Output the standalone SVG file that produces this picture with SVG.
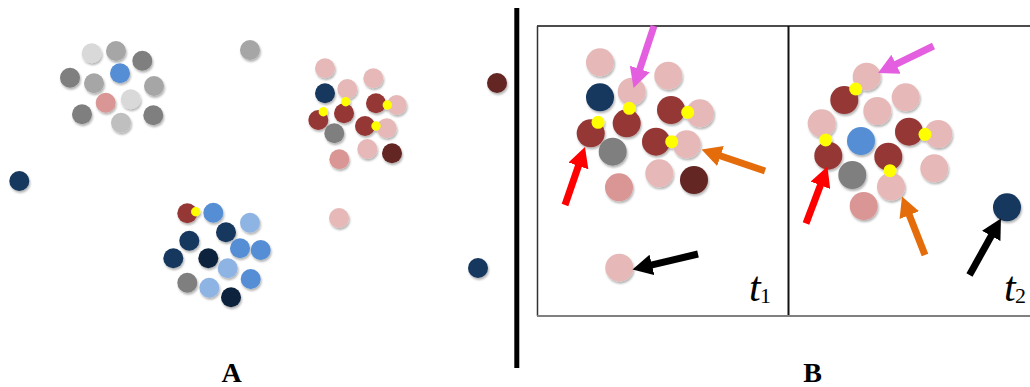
<svg xmlns="http://www.w3.org/2000/svg" width="1030" height="387" viewBox="0 0 1030 387">
<style>
.lg{fill:#d9d9d9}.g{fill:#a6a6a6}.dg{fill:#7f7f7f}.mg{fill:#bfbfbf}
.bl{fill:#558ed5}.lb{fill:#8eb4e3}.nv{fill:#17375e}.dn{fill:#10243e}
.pk{fill:#e6b9b8}.pr{fill:#d99694}.dr{fill:#953735}.mr{fill:#632523}.y{fill:#ffff00}
.sh{filter:url(#shadow)}
.lbl{font-family:"Liberation Serif","Times New Roman",serif;font-weight:bold;font-size:28px;fill:#000}
.t{font-family:"Liberation Serif","Times New Roman",serif;font-style:italic;font-size:42px;fill:#000}
.sub{font-family:"Liberation Serif","Times New Roman",serif;font-size:22px;fill:#000}
.ar{stroke-width:7;fill:none;stroke-linecap:butt}
</style>
<defs>
<filter id="shadow" x="-30%" y="-30%" width="160%" height="160%">
<feDropShadow dx="1" dy="2" stdDeviation="1.2" flood-color="#000" flood-opacity="0.3"/>
</filter>
<marker id="hM" markerUnits="userSpaceOnUse" markerWidth="20" markerHeight="21" viewBox="0 0 20 21" refX="2" refY="10.5" orient="auto"><path d="M0,0 L20,10.5 L0,21 z" fill="#e35fe0"/></marker>
<marker id="hR" markerUnits="userSpaceOnUse" markerWidth="20" markerHeight="21" viewBox="0 0 20 21" refX="2" refY="10.5" orient="auto"><path d="M0,0 L20,10.5 L0,21 z" fill="#ff0000"/></marker>
<marker id="hO" markerUnits="userSpaceOnUse" markerWidth="20" markerHeight="21" viewBox="0 0 20 21" refX="2" refY="10.5" orient="auto"><path d="M0,0 L20,10.5 L0,21 z" fill="#e46c0a"/></marker>
<marker id="hK" markerUnits="userSpaceOnUse" markerWidth="20" markerHeight="21" viewBox="0 0 20 21" refX="2" refY="10.5" orient="auto"><path d="M0,0 L20,10.5 L0,21 z" fill="#000000"/></marker>
</defs>
<rect width="1030" height="387" fill="#ffffff"/>

<!-- Panel A -->
<g id="clusterGray" class="sh">
<circle class="lg" cx="91.7" cy="53.3" r="10"/>
<circle class="g" cx="116" cy="51" r="10"/>
<circle class="dg" cx="142.3" cy="60.7" r="10"/>
<circle class="dg" cx="70" cy="77.7" r="10"/>
<circle class="g" cx="94" cy="83.3" r="10"/>
<circle class="bl" cx="120" cy="73.3" r="10"/>
<circle class="g" cx="154" cy="86" r="10"/>
<circle class="pr" cx="105.7" cy="102.7" r="10"/>
<circle class="lg" cx="130.7" cy="99.3" r="10"/>
<circle class="dg" cx="82" cy="114.3" r="10"/>
<circle class="mg" cx="121" cy="122.7" r="10"/>
<circle class="dg" cx="153.3" cy="115.3" r="10"/>
</g>
<g id="clusterPink" class="sh">
<circle class="pk" cx="325" cy="68.3" r="10"/>
<circle class="pk" cx="373.3" cy="78.3" r="10"/>
<circle class="nv" cx="325" cy="93.3" r="10"/>
<circle class="pk" cx="347.3" cy="89" r="10"/>
<circle class="pk" cx="396.7" cy="105" r="10"/>
<circle class="dr" cx="376" cy="103.3" r="10"/>
<circle class="dr" cx="344" cy="113.3" r="10"/>
<circle class="dr" cx="318.3" cy="120" r="10"/>
<circle class="dg" cx="334.3" cy="133.3" r="10"/>
<circle class="pk" cx="386.7" cy="128.3" r="10"/>
<circle class="dr" cx="365" cy="126" r="10"/>
<circle class="pk" cx="367.3" cy="149" r="10"/>
<circle class="mr" cx="392" cy="153.3" r="10"/>
<circle class="pr" cx="339.3" cy="159.3" r="10"/>
<circle class="y" cx="387.3" cy="105" r="4.7"/>
<circle class="y" cx="345.7" cy="101.7" r="4.7"/>
<circle class="y" cx="323.3" cy="111.7" r="4.7"/>
<circle class="y" cx="376" cy="126" r="4.7"/>
</g>
<g id="clusterBlue" class="sh">
<circle class="dr" cx="187.3" cy="213.3" r="10"/>
<circle class="bl" cx="213.3" cy="212.7" r="10"/>
<circle class="lb" cx="250" cy="222.7" r="10"/>
<circle class="nv" cx="226" cy="232.3" r="10"/>
<circle class="nv" cx="189.3" cy="240.7" r="10"/>
<circle class="bl" cx="240" cy="248.3" r="10"/>
<circle class="bl" cx="260.7" cy="250" r="10"/>
<circle class="nv" cx="173.3" cy="258.3" r="10"/>
<circle class="dn" cx="208.3" cy="258.3" r="10"/>
<circle class="lb" cx="227.7" cy="268.3" r="10"/>
<circle class="bl" cx="250.7" cy="279" r="10"/>
<circle class="dg" cx="187.3" cy="282.7" r="10"/>
<circle class="lb" cx="209.3" cy="287.7" r="10"/>
<circle class="dn" cx="231" cy="297.3" r="10"/>
<circle class="y" cx="195.7" cy="211.7" r="4.7"/>
</g>
<g id="singlesA" class="sh">
<circle class="g" cx="250" cy="50" r="10"/>
<circle class="mr" cx="497" cy="83" r="10"/>
<circle class="nv" cx="19.3" cy="181" r="10"/>
<circle class="pk" cx="339" cy="218" r="10"/>
<circle class="nv" cx="478" cy="268" r="10"/>
</g>

<!-- Separator -->
<line x1="516.8" y1="8" x2="516.8" y2="368" stroke="#000" stroke-width="5"/>

<!-- Panel B frame -->
<g id="frame" fill="none">
<line x1="537" y1="26" x2="1030" y2="26" stroke="#111" stroke-width="1.5"/>
<line x1="537.5" y1="26" x2="537.5" y2="316" stroke="#333" stroke-width="1.5"/>
<line x1="788.5" y1="26" x2="788.5" y2="316" stroke="#111" stroke-width="2"/>
<line x1="537" y1="316" x2="1030" y2="316" stroke="#808080" stroke-width="2"/>
</g>

<!-- Panel B t1 -->
<g id="t1cluster" class="sh">
<circle class="pk" cx="600" cy="62.3" r="14"/>
<circle class="pk" cx="668.3" cy="75.7" r="14"/>
<circle class="nv" cx="600" cy="97.3" r="14"/>
<circle class="pk" cx="631.7" cy="91.7" r="14"/>
<circle class="pk" cx="700" cy="113.3" r="14"/>
<circle class="dr" cx="671" cy="110" r="14"/>
<circle class="dr" cx="626.7" cy="123.3" r="14"/>
<circle class="dr" cx="590.7" cy="133.3" r="14"/>
<circle class="dg" cx="612.7" cy="151.7" r="14"/>
<circle class="pk" cx="686.7" cy="144.3" r="14"/>
<circle class="dr" cx="656" cy="141.7" r="14"/>
<circle class="pk" cx="659.3" cy="173.3" r="14"/>
<circle class="mr" cx="694" cy="180" r="14"/>
<circle class="pr" cx="619" cy="187.3" r="14"/>
<circle class="pk" cx="619.3" cy="267.7" r="14"/>
<circle class="y" cx="629.3" cy="108.3" r="6.5"/>
<circle class="y" cx="687.7" cy="112.3" r="6.5"/>
<circle class="y" cx="598" cy="122.3" r="6.5"/>
<circle class="y" cx="671.7" cy="141.7" r="6.5"/>
</g>

<!-- Panel B t2 -->
<g id="t2cluster" class="sh">
<circle class="pk" cx="866.7" cy="76.7" r="14"/>
<circle class="dr" cx="844.3" cy="100" r="14"/>
<circle class="pk" cx="905.7" cy="97.3" r="14"/>
<circle class="pk" cx="877.3" cy="111" r="14"/>
<circle class="pk" cx="821.7" cy="123.3" r="14"/>
<circle class="bl" cx="861" cy="141" r="14"/>
<circle class="pk" cx="938.3" cy="134" r="14"/>
<circle class="dr" cx="909" cy="131.7" r="14"/>
<circle class="dr" cx="828.3" cy="155.7" r="14"/>
<circle class="pk" cx="891" cy="186.7" r="14"/>
<circle class="dr" cx="888.3" cy="156.7" r="14"/>
<circle class="dg" cx="852.3" cy="175" r="14"/>
<circle class="pk" cx="934.3" cy="168.3" r="14"/>
<circle class="pr" cx="863.7" cy="206" r="14"/>
<circle class="nv" cx="1007" cy="207.3" r="14"/>
<circle class="y" cx="855.7" cy="89" r="6.5"/>
<circle class="y" cx="925" cy="134.3" r="6.5"/>
<circle class="y" cx="825.7" cy="140" r="6.5"/>
<circle class="y" cx="890" cy="170.7" r="6.5"/>
</g>

<!-- Arrows -->
<g id="arrows" class="ar">
<line x1="654" y1="26" x2="639.2" y2="70.9" stroke="#e35fe0" marker-end="url(#hM)"/>
<line x1="565" y1="205" x2="579.1" y2="164" stroke="#ff0000" marker-end="url(#hR)"/>
<line x1="765" y1="171" x2="718.6" y2="155.3" stroke="#e46c0a" marker-end="url(#hO)"/>
<line x1="698" y1="254" x2="650" y2="265.4" stroke="#000000" marker-end="url(#hK)"/>
<line x1="933.5" y1="46" x2="894.2" y2="65.1" stroke="#e35fe0" marker-end="url(#hM)"/>
<line x1="806" y1="223.5" x2="821.1" y2="183.4" stroke="#ff0000" marker-end="url(#hR)"/>
<line x1="925" y1="255" x2="908.6" y2="213.2" stroke="#e46c0a" marker-end="url(#hO)"/>
<line x1="969.5" y1="275" x2="992.2" y2="234.2" stroke="#000000" marker-end="url(#hK)"/>
</g>

<!-- Labels -->
<g id="labels">
<text class="t" x="749" y="301">t</text><text class="sub" x="760" y="303">1</text>
<text class="t" x="1004" y="301">t</text><text class="sub" x="1015" y="303">2</text>
<text class="lbl" x="231.7" y="381.7" text-anchor="middle">A</text>
<text class="lbl" x="812.5" y="381.7" text-anchor="middle">B</text>
</g>
</svg>
